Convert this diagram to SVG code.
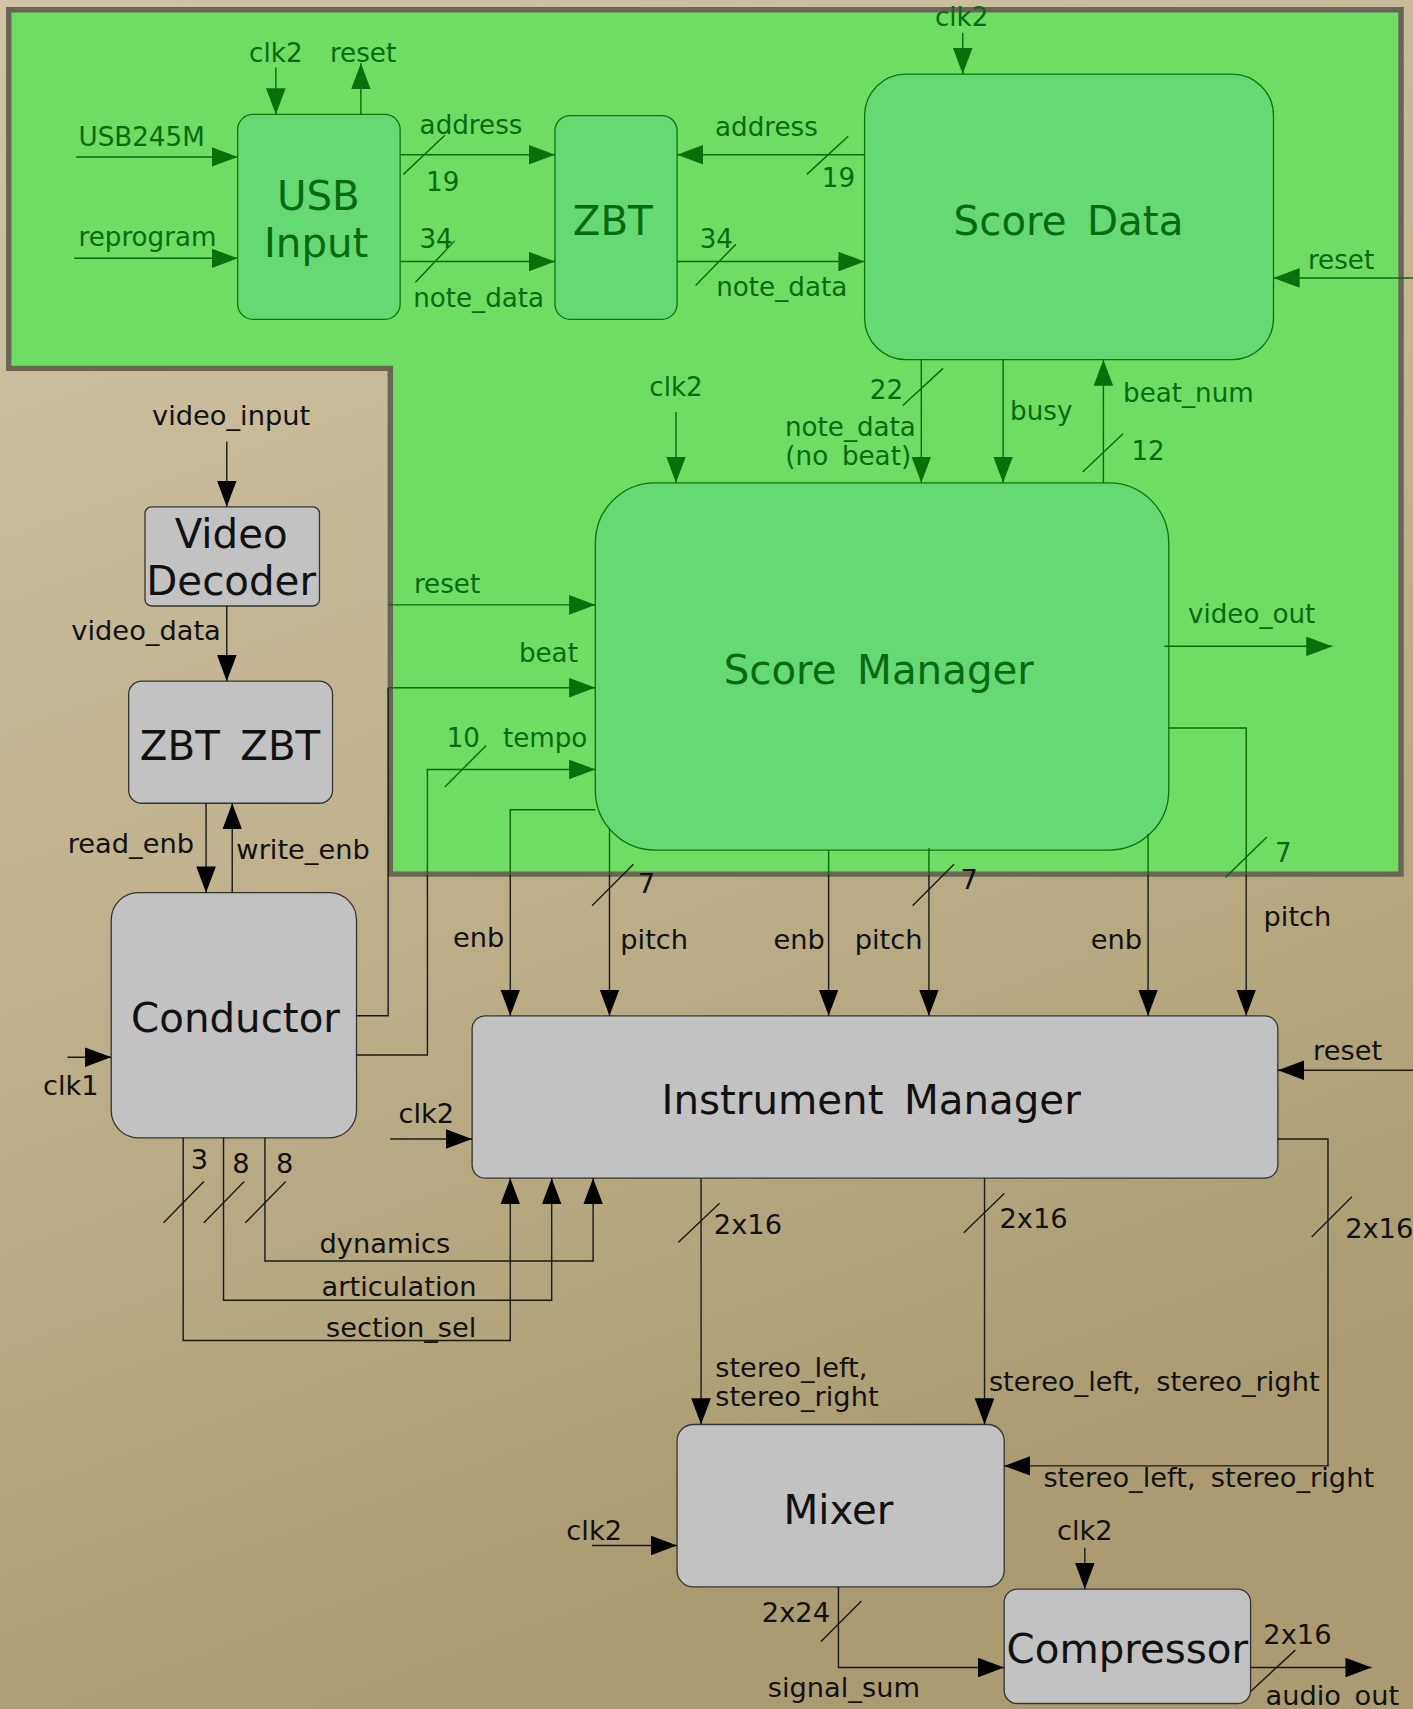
<svg xmlns="http://www.w3.org/2000/svg" width="1413" height="1709" viewBox="0 0 1413 1709">
<defs>
<linearGradient id="bg" x1="0" y1="0" x2="0.3" y2="1">
<stop offset="0" stop-color="#d0c4a5"/>
<stop offset="0.5" stop-color="#c0b38d"/>
<stop offset="1" stop-color="#aa9c70"/>
</linearGradient>
<marker id="ak" viewBox="0 0 24 18" refX="24" refY="9" markerWidth="24" markerHeight="18" markerUnits="userSpaceOnUse" orient="auto"><path d="M0,0 L24,9 L0,18 Z" fill="#000"/></marker>
<marker id="ag" viewBox="0 0 24 18" refX="24" refY="9" markerWidth="24" markerHeight="18" markerUnits="userSpaceOnUse" orient="auto"><path d="M0,0 L24,9 L0,18 Z" fill="#0a6e0a"/></marker>
<style>
text{font-family:"DejaVu Sans","Liberation Sans",sans-serif;}
.big{font-size:37px;text-anchor:middle;word-spacing:7px;}
.sm{font-size:24px;word-spacing:5px;}
.smk{font-size:25px;word-spacing:6px;}
.c{text-anchor:middle;}
.tg{fill:#086a10;}
.tk{fill:#111;}
.ng{fill:#67d972;stroke:#0d760d;stroke-width:1.2;}
.nk{fill:#c2c2c2;stroke:#333;stroke-width:1.2;}
.lk{fill:none;stroke:#1a1a1a;stroke-width:1.3;}
.lg{fill:none;stroke:#0a6a0a;stroke-width:1.3;}
.ak{marker-end:url(#ak);}
.ag{marker-end:url(#ag);}
</style>
</defs>
<rect width="1413" height="1709" fill="url(#bg)"/>
<g transform="scale(1.0903,1.0899)">
<g id="score-region">
<path d="M8,9 H1285 V802 H358 V338 H8 Z" fill="#6fdc63" stroke="#6b6556" stroke-width="5"/>
</g>

<g id="usb-input">
<rect class="ng" x="218" y="105" width="149" height="188" rx="14"/>
<text class="big tg" x="292" y="193">USB</text>
<text class="big tg" x="290" y="236">Input</text>
</g>
<g id="zbt">
<rect class="ng" x="509" y="106" width="112" height="187" rx="14"/>
<text class="big tg" x="562" y="216">ZBT</text>
</g>
<g id="score-data">
<rect class="ng" x="793" y="68" width="375" height="262" rx="38"/>
<text class="big tg" x="980" y="216">Score Data</text>
</g>
<g id="score-manager">
<rect class="ng" x="546" y="443" width="526" height="337" rx="55"/>
<text class="big tg" x="806" y="628">Score Manager</text>
</g>
<g id="video-decoder">
<rect class="nk" x="133" y="465" width="160" height="91" rx="6"/>
<text class="big tk" x="212" y="503">Video</text>
<text class="big tk" x="212" y="546">Decoder</text>
</g>
<g id="zbt-zbt">
<rect class="nk" x="118" y="625" width="187" height="112" rx="12"/>
<text class="big tk" x="211" y="697">ZBT ZBT</text>
</g>
<g id="conductor">
<rect class="nk" x="102" y="819" width="225" height="225" rx="25"/>
<text class="big tk" x="216" y="947">Conductor</text>
</g>
<g id="instrument-manager">
<rect class="nk" x="433" y="932" width="739" height="149" rx="12"/>
<text class="big tk" x="799" y="1022">Instrument Manager</text>
</g>
<g id="mixer">
<rect class="nk" x="621" y="1307" width="300" height="149" rx="15"/>
<text class="big tk" x="769" y="1398">Mixer</text>
</g>
<g id="compressor">
<rect class="nk" x="921" y="1458" width="226" height="105" rx="12"/>
<text class="big tk" x="1034" y="1526">Compressor</text>
</g>

<g id="connectors">
<path class="lg ag" d="M70,144 H218"/>
<path class="lg ag" d="M68,237 H218"/>
<path class="lg ag" d="M253,62 V105"/>
<path class="lg ag" d="M331,105 V58"/>
<path class="lg ag" d="M367,142 H509"/>
<path class="lg ag" d="M367,240 H509"/>
<path class="lg ag" d="M793,142 H621"/>
<path class="lg ag" d="M621,240 H793"/>
<path class="lg ag" d="M883,30 V68"/>
<path class="lg ag" d="M1296,255 H1168"/>
<path class="lg ag" d="M845,330 V443"/>
<path class="lg ag" d="M920,330 V443"/>
<path class="lg ag" d="M1012,443 V330"/>
<path class="lg ag" d="M620,378 V443"/>
<path class="lg ag" d="M356,555 H546"/>
<path class="lg ag" d="M1068,593 H1222"/>
<path class="lk" d="M327,932 H356 V631"/>
<path class="lg ag" d="M356,631 H546"/>
<path class="lk" d="M327,968 H392 V803"/>
<path class="lg ag" d="M392,803 V706 H546"/>
<path class="lg" d="M546,743 H468 V803"/>
<path class="lk ak" d="M468,803 V932"/>
<path class="lg" d="M559,760 V803"/>
<path class="lk ak" d="M559,803 V932"/>
<path class="lg" d="M760,780 V803"/>
<path class="lk ak" d="M760,803 V932"/>
<path class="lg" d="M852,778 V803"/>
<path class="lk ak" d="M852,803 V932"/>
<path class="lg" d="M1053,765 V803"/>
<path class="lk ak" d="M1053,803 V932"/>
<path class="lg" d="M1072,668 H1143 V803"/>
<path class="lk ak" d="M1143,803 V932"/>
<path class="lg" d="M370,160 L408,124 M381,259 L417,221 M740,160 L778,125 M638,262 L675,224 M828,372 L865,338 M993,433 L1030,398 M408,722 L446,684 M1124,805 L1162,768"/>
<path class="lk ak" d="M208,405 V465"/>
<path class="lk ak" d="M208,556 V625"/>
<path class="lk ak" d="M189,737 V819"/>
<path class="lk ak" d="M213,819 V737"/>
<path class="lk ak" d="M62,970 H102"/>
<path class="lk ak" d="M358,1045 H433"/>
<path class="lk ak" d="M1296,982 H1172"/>
<path class="lk ak" d="M168,1044 V1230 H468 V1081"/>
<path class="lk ak" d="M205,1044 V1193 H506 V1081"/>
<path class="lk ak" d="M243,1044 V1157 H544 V1081"/>
<path class="lk ak" d="M643,1081 V1307"/>
<path class="lk ak" d="M903,1081 V1307"/>
<path class="lk ak" d="M1172,1045 H1218 V1345 H921"/>
<path class="lk ak" d="M543,1418 H621"/>
<path class="lk ak" d="M769,1456 V1530 H921"/>
<path class="lk ak" d="M995,1420 V1458"/>
<path class="lk ak" d="M1147,1530 H1258"/>
<path class="lk" d="M543,831 L581,793 M837,831 L875,793 M150,1122 L187,1084 M187,1122 L224,1084 M225,1122 L262,1084 M622,1140 L660,1104 M884,1131 L921,1095 M1203,1135 L1240,1098 M753,1506 L790,1469 M1147,1552 L1188,1514"/>

<g class="sm tg">
<text class="c" x="253" y="57">clk2</text>
<text class="c" x="333" y="57">reset</text>
<text x="72" y="134">USB245M</text>
<text x="72" y="226">reprogram</text>
<text class="c" x="432" y="123">address</text>
<text class="c" x="406" y="175">19</text>
<text class="c" x="400" y="228">34</text>
<text class="c" x="439" y="282">note_data</text>
<text class="c" x="703" y="125">address</text>
<text class="c" x="769" y="172">19</text>
<text class="c" x="657" y="228">34</text>
<text class="c" x="717" y="272">note_data</text>
<text class="c" x="882" y="24">clk2</text>
<text class="c" x="1230" y="247">reset</text>
<text class="c" x="620" y="363">clk2</text>
<text class="c" x="813" y="366">22</text>
<text class="c" x="780" y="400">note_data</text>
<text class="c" x="778" y="427">(no beat)</text>
<text class="c" x="955" y="385">busy</text>
<text class="c" x="1090" y="369">beat_num</text>
<text class="c" x="1053" y="422">12</text>
<text class="c" x="410" y="544">reset</text>
<text class="c" x="503" y="607">beat</text>
<text class="c" x="425" y="685">10</text>
<text class="c" x="500" y="685">tempo</text>
<text class="c" x="1148" y="572">video_out</text>
<text class="c" x="1177" y="791">7</text>
</g>
<g class="smk tk">
<text class="c" x="212" y="390">video_input</text>
<text class="c" x="134" y="587">video_data</text>
<text class="c" x="120" y="783">read_enb</text>
<text class="c" x="278" y="788">write_enb</text>
<text class="c" x="439" y="869">enb</text>
<text class="c" x="600" y="871">pitch</text>
<text class="c" x="593" y="819">7</text>
<text class="c" x="733" y="871">enb</text>
<text class="c" x="815" y="871">pitch</text>
<text class="c" x="889" y="816">7</text>
<text class="c" x="1024" y="871">enb</text>
<text class="c" x="1190" y="850">pitch</text>
<text class="c" x="65" y="1005">clk1</text>
<text class="c" x="391" y="1030">clk2</text>
<text class="c" x="1236" y="973">reset</text>
<text class="c" x="183" y="1073">3</text>
<text class="c" x="221" y="1076">8</text>
<text class="c" x="261" y="1076">8</text>
<text class="c" x="353" y="1150">dynamics</text>
<text class="c" x="366" y="1189">articulation</text>
<text class="c" x="368" y="1227">section_sel</text>
<text class="c" x="686" y="1132">2x16</text>
<text class="c" x="948" y="1127">2x16</text>
<text class="c" x="1265" y="1136">2x16</text>
<text x="656" y="1263">stereo_left,</text>
<text x="656" y="1290">stereo_right</text>
<text x="907" y="1276">stereo_left, stereo_right</text>
<text x="957" y="1364">stereo_left, stereo_right</text>
<text class="c" x="545" y="1413">clk2</text>
<text class="c" x="995" y="1413">clk2</text>
<text class="c" x="730" y="1488">2x24</text>
<text class="c" x="774" y="1557">signal_sum</text>
<text class="c" x="1190" y="1508">2x16</text>
<text class="c" x="1222" y="1564">audio_out</text>
</g>
</g>
</g>
</svg>
